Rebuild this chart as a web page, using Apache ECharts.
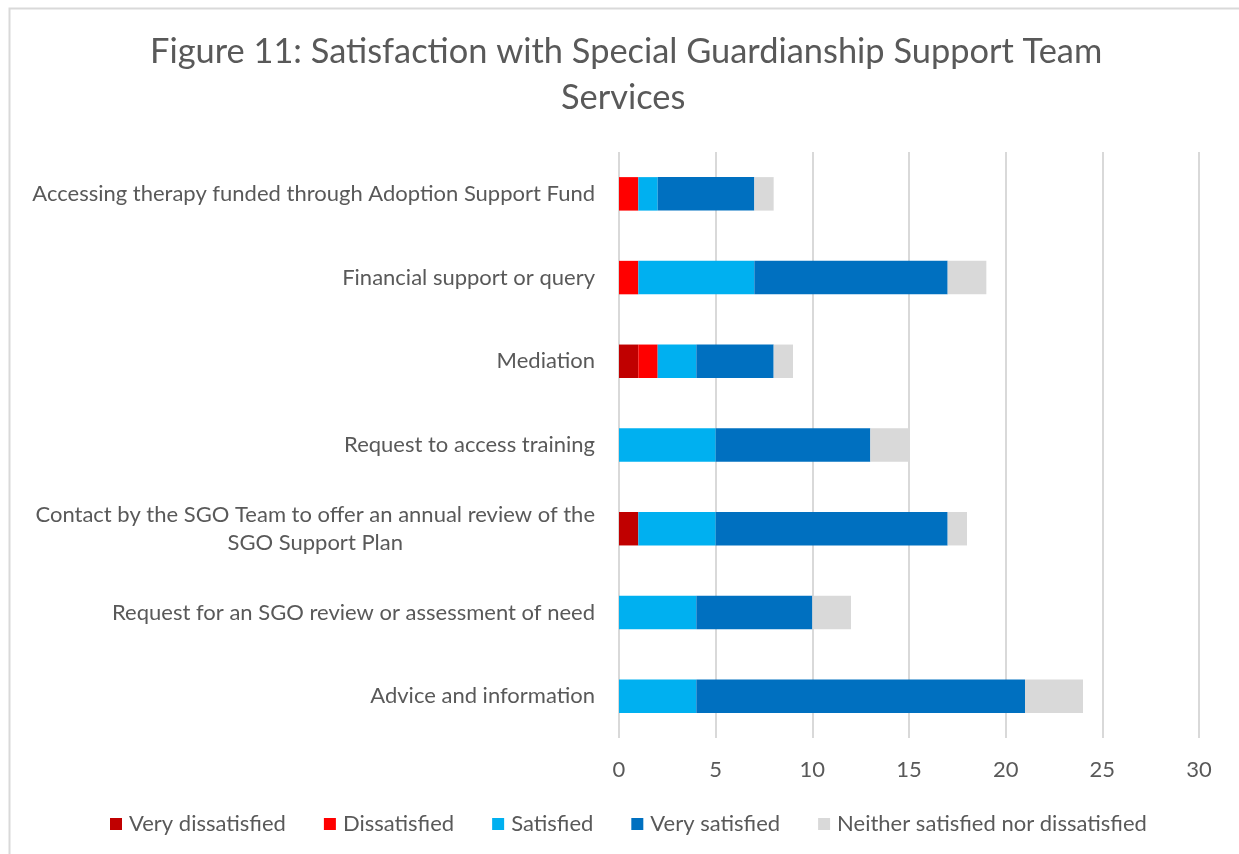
<!DOCTYPE html>
<html>
<head>
<meta charset="utf-8">
<script src="https://cdn.jsdelivr.net/npm/echarts@6/dist/echarts.min.js"></script>
<style>
  html, body { margin: 0; padding: 0; background: #ffffff; }
  #chart { width: 1239px; height: 854px; }
</style>
</head>
<body>
<div id="chart"></div>
<script>
// Services, listed top to bottom
const categories = [
  'Accessing therapy funded through Adoption Support Fund',
  'Financial support or query',
  'Mediation',
  'Request to access training',
  'Contact by the SGO Team to offer an annual review of the\nSGO Support Plan',
  'Request for an SGO review or assessment of need',
  'Advice and information'
];

const veryDissatisfied = [0, 0, 1, 0, 1, 0, 0];
const dissatisfied     = [1, 1, 1, 0, 0, 0, 0];
const satisfied        = [1, 6, 2, 5, 4, 4, 4];
const verySatisfied    = [5, 10, 4, 8, 12, 6, 17];
const neither          = [1, 2, 1, 2, 1, 2, 3];

const xTicks = [0, 5, 10, 15, 20, 25, 30];

const titleLines = [
  'Figure 11: Satisfaction with Special Guardianship Support Team',
  'Services'
];

const FONT = 'Lato, "Open Sans", sans-serif';
const TEXT = '#595959';
const LABEL_SIZE = 22;

const chart = echarts.init(document.getElementById('chart'), null, { renderer: 'canvas' });

const seriesDefs = [
  { name: 'Very dissatisfied', data: veryDissatisfied, color: '#C00000' },
  { name: 'Dissatisfied', data: dissatisfied, color: '#FF0000' },
  { name: 'Satisfied', data: satisfied, color: '#00B0F0' },
  { name: 'Very satisfied', data: verySatisfied, color: '#0070C0' },
  { name: 'Neither satisfied nor dissatisfied', data: neither, color: '#D9D9D9' }
];

const titleStyle = {
  fontFamily: FONT,
  fontSize: 34.4,
  fontWeight: 'normal',
  color: TEXT,
  lineHeight: 46
};

chart.setOption({
  backgroundColor: '#ffffff',
  animation: false,
  title: [
    { text: titleLines[0], left: 145, top: 24, textStyle: titleStyle },
    { text: titleLines[1], left: 556, top: 70, textStyle: titleStyle }
  ],
  graphic: [{
    type: 'rect',
    shape: { x: 9.5, y: 8.5, width: 1260, height: 900 },
    style: { fill: 'none', stroke: '#d9d9d9', lineWidth: 2 },
    silent: true,
    z: -1
  }],
  legend: {
    bottom: 14,
    left: 105,
    itemWidth: 12,
    itemHeight: 12,
    itemGap: 38,
    icon: 'rect',
    textStyle: { fontFamily: FONT, fontSize: LABEL_SIZE, color: TEXT, padding: [0, 0, 0, 2] },
    data: seriesDefs.map(s => s.name)
  },
  grid: {
    left: 619,
    right: 40,
    top: 152,
    bottom: 116,
    containLabel: false
  },
  xAxis: {
    type: 'value',
    min: xTicks[0],
    max: xTicks[xTicks.length - 1],
    interval: 5,
    axisLine: { show: false },
    axisTick: { show: false },
    axisLabel: {
      margin: 21,
      fontFamily: FONT,
      fontSize: LABEL_SIZE,
      color: TEXT
    },
    splitLine: { show: true, lineStyle: { color: '#d9d9d9', width: 2 } }
  },
  yAxis: {
    type: 'category',
    inverse: true,
    data: categories,
    axisLine: { show: false },
    axisTick: { show: false },
    axisLabel: {
      margin: 24,
      fontFamily: FONT,
      fontSize: LABEL_SIZE,
      color: TEXT,
      lineHeight: 28,
      formatter: v => v.split('\n').map(l => '{c|' + l + '}').join('\n'),
      rich: {
        c: { align: 'center', fontFamily: FONT, fontSize: LABEL_SIZE, color: TEXT, lineHeight: 28 }
      }
    }
  },
  series: seriesDefs.map(s => ({
    name: s.name,
    type: 'bar',
    stack: 'total',
    barWidth: '40%',
    data: s.data,
    itemStyle: { color: s.color }
  }))
});
</script>
</body>
</html>
